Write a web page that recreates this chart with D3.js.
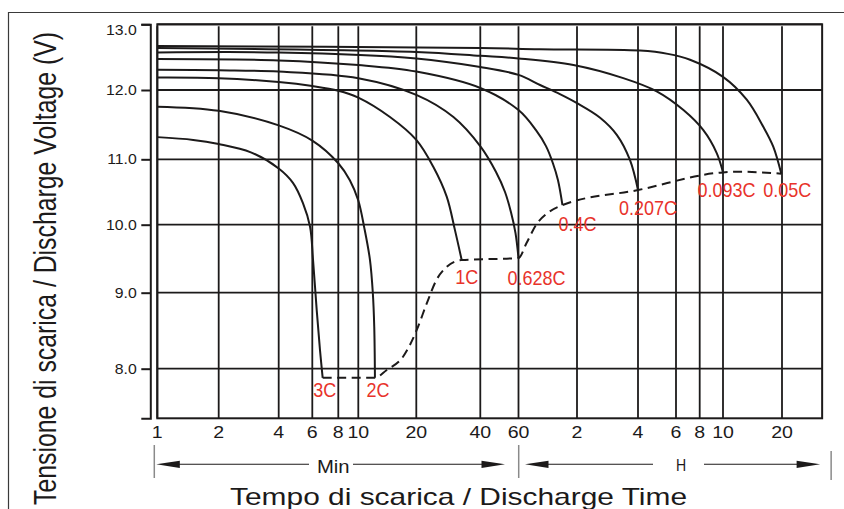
<!DOCTYPE html>
<html><head><meta charset="utf-8">
<script src="https://cdn.jsdelivr.net/npm/d3@7/dist/d3.min.js"></script>
<style>body{margin:0;background:#fff}svg{display:block}</style>
</head><body><svg id="c" width="844" height="509"></svg>
<script>
// ---------- data ----------
const xTicks = [1,2,4,6,8,10,20,40,60,120,240,360,480,600,1200];          // minutes
const xTickLabels = ["1","2","4","6","8","10","20","40","60","2","4","6","8","10","20"];
const yTicks = [8,9,10,11,12,13];
const yTickLabels = ["8.0","9.0","10.0","11.0","12.0","13.0"];
const yMin = 7.35;      // volts at bottom of frame
const xMax = 1923;      // minutes at right of frame
const rates = ["3C","2C","1C","0.628C","0.4C","0.207C","0.093C","0.05C"];
const c3C   = [[1,11.32],[1.5,11.28],[2,11.22],[2.9,11.10],[4,10.86],[4.75,10.64],[5.36,10.33],[5.84,9.97],[6.05,9.48],[6.3,8.77],[6.53,8.25],[6.73,7.88]];
const c2C   = [[1,11.76],[2,11.70],[4,11.49],[6,11.27],[8,10.94],[9.1,10.68],[10,10.37],[10.75,9.95],[11.5,9.48],[11.9,8.99],[12.1,8.55],[12.2,7.88]];
const c1C   = [[1,12.19],[2,12.18],[4,12.12],[6,12.06],[8,11.99],[10,11.89],[14.6,11.61],[20,11.28],[24,10.89],[27.8,10.43],[30.4,9.92],[32.7,9.48]];
const c0628 = [[1,12.31],[2,12.30],[4,12.28],[10,12.18],[20,11.93],[29.9,11.61],[40.2,11.18],[47.2,10.81],[52,10.50],[55.4,10.19],[58.1,9.88],[60,9.51]];
const c04   = [[1,12.47],[4,12.45],[10,12.38],[20,12.28],[40,12.03],[60,11.71],[73.8,11.42],[83.1,11.19],[90.2,10.94],[95.8,10.68],[101,10.30]];
const c0207 = [[1,12.57],[4,12.57],[20,12.48],[40,12.35],[60,12.23],[77,12.08],[98,11.94],[120,11.81],[156,11.60],[189,11.35],[219,10.99],[240,10.53]];
const c0093 = [[1,12.64],[20,12.58],[40,12.52],[60,12.48],[115,12.38],[203,12.18],[293,11.98],[394,11.71],[497,11.42],[565,11.09],[600,10.80]];
const c005  = [[1,12.67],[40,12.64],[77,12.62],[245,12.60],[330,12.55],[427,12.46],[600,12.20],[793,11.86],[963,11.47],[1084,11.18],[1190,10.78]];
const cutoff = [[6.73,7.88],[12.2,7.88],[14,7.98],[17.1,8.16],[20.1,8.51],[22.4,8.86],[24.9,9.19],[27.8,9.38],[32.7,9.48],[60,9.51],[66,9.73],[74,10.0],[84,10.17],[101,10.30],[240,10.53],[600,10.80],[733,10.81],[1190,10.78]];
const series = [c3C,c2C,c1C,c0628,c04,c0207,c0093,c005];
const rangeLabels = ["Min","H"];
const xTitle = "Tempo di scarica / Discharge Time";
const yTitle = "Tensione di scarica / Discharge Voltage (V)";

// ---------- layout ----------
const xPx = [157.3,218.7,278.7,312.3,338.3,358.3,416.3,480.3,518.5,577,638,676,699.7,723,782];
const yPx = [418.3,368.7,292.7,224.7,159.3,90,24.3];
const xs = d3.scaleLog().domain(xTicks).range(xPx);
const ys = d3.scaleLinear().domain([yMin, ...yTicks]).range(yPx);
const L = xs(1), R = xs(xMax), T = ys(13), B = ys(yMin);
const INK = "#1c1a1a", RED = "#e8332b", FONT = "'Liberation Sans', Arial, sans-serif";
const svg = d3.select("#c");

function txt(str, x, y, o) {
  o = o || {};
  const t = svg.append("text")
    .attr("transform", `translate(${x},${y}) scale(${o.sx||1},1)` + (o.rot ? ` rotate(${o.rot})` : ""))
    .attr("text-anchor", o.anchor || "middle")
    .attr("font-family", FONT).attr("font-size", o.size || 14)
    .attr("fill", o.fill || INK).text(str);
  if (o.len) t.attr("textLength", o.len).attr("lengthAdjust", "spacingAndGlyphs");
  return t;
}

// outer frame
svg.append("path").attr("d", "M8.5,509V12.5H844").attr("fill","none").attr("stroke","#3a3a3a").attr("stroke-width",1.2);

// grid
const grid = svg.append("g").attr("stroke", INK).attr("stroke-width", 1.8);
grid.selectAll("line.v").data(xTicks).join("line").attr("class","v")
  .attr("x1", d => xs(d)).attr("x2", d => xs(d)).attr("y1", T + 2).attr("y2", B);
grid.selectAll("line.h").data(yTicks).join("line").attr("class","h")
  .attr("x1", L).attr("x2", R).attr("y1", d => ys(d)).attr("y2", d => ys(d));
svg.append("rect").attr("x", L).attr("y", T).attr("width", R - L).attr("height", B - T)
  .attr("fill","none").attr("stroke", INK).attr("stroke-width", 2);

// y axis (separate spine with ticks)
const ya = svg.append("g").attr("transform", `translate(${L - 7},0)`)
  .call(d3.axisLeft(ys).tickValues(yTicks).tickSize(9).tickSizeOuter(9).tickFormat(""));
ya.selectAll("path,line").attr("stroke", INK).attr("stroke-width", 2);
yTicks.forEach((v, i) => txt(yTickLabels[i], L - 20.5, Math.max(ys(v) + 5, T + 11), {anchor:"end", size:14, sx:1.13}));

// x tick labels
xTicks.forEach((v, i) => txt(xTickLabels[i], xs(v), 437.5, {size:17, sx:1.15}));

// curves
const line = d3.line().x(d => xs(d[0])).y(d => ys(d[1])).curve(d3.curveCatmullRom.alpha(0.5));
svg.append("g").selectAll("path").data(series).join("path")
  .attr("d", line).attr("fill","none").attr("stroke", INK).attr("stroke-width", 2);
const cutLine = d3.line().x(d => xs(d[0])).y(d => ys(d[1])).curve(d3.curveMonotoneX);
svg.append("path").attr("d", cutLine(cutoff)).attr("fill","none").attr("stroke", INK)
  .attr("stroke-width", 2).attr("stroke-dasharray", "9,5.5");

// rate labels (red) at curve ends
const nudge = [[2,19.6],[3,19.6],[5,24],[18,26.6],[15,26],[10,24.5],[3.5,25],[6,23.5]];
series.forEach((s, i) => {
  const e = s[s.length - 1];
  txt(rates[i], xs(e[0]) + nudge[i][0], ys(e[1]) + nudge[i][1], {size:20, sx:0.9, fill:RED});
});

// range arrows
const ay = 464.3;
const gray = "#8a8a8a";
[[xs(1) - 3, 445, 478], [xs(60) + 0.2, 445, 478], [R + 9, 451, 480]].forEach(m =>
  svg.append("line").attr("x1", m[0]).attr("x2", m[0]).attr("y1", m[1]).attr("y2", m[2])
    .attr("stroke", gray).attr("stroke-width", 1.5));
function arrowHead(tipX, dir) {
  svg.append("path").attr("d", `M${tipX},${ay}L${tipX + dir*23.5},${ay - 3.6}L${tipX + dir*23.5},${ay + 3.6}Z`).attr("fill", INK);
}
function hline(x1, x2) {
  svg.append("line").attr("x1", x1).attr("x2", x2).attr("y1", ay).attr("y2", ay).attr("stroke", INK).attr("stroke-width", 1.1);
}
// Min
arrowHead(xs(1) - 1, 1); arrowHead(xs(60) - 13.5, -1);
hline(xs(1) + 20, 309); hline(353, xs(60) - 34);
txt(rangeLabels[0], 333.3, 472.7, {size:17.5, sx:1.16});
// H
arrowHead(xs(60) + 6.5, 1); arrowHead(R - 2, -1);
hline(xs(60) + 28, 653); hline(704, R - 24);
txt(rangeLabels[1], 681, 470.5, {size:16, sx:0.88});

// titles
txt(xTitle, 458.5, 504.5, {size:23, len:457/1.29, sx:1.29});
txt(yTitle, 55.5, 268.5, {size:24.6, len:473, sx:1.25, rot:-90});
</script></body></html>
